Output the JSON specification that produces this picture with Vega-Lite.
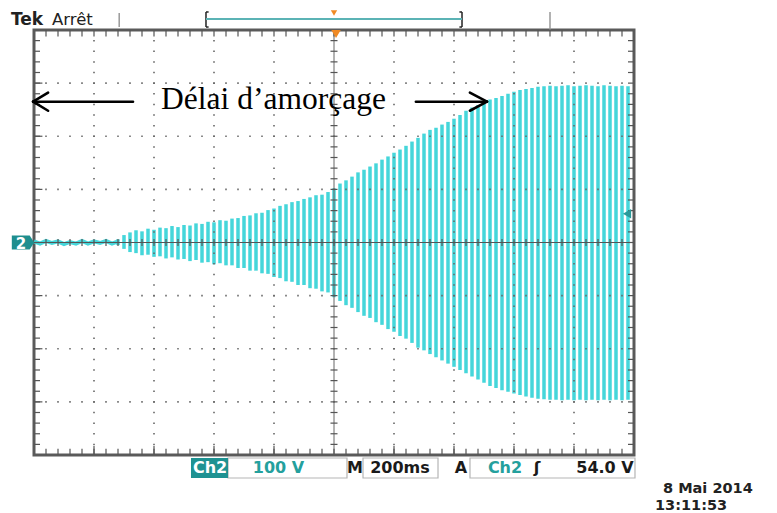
{
"$schema": "https://vega.github.io/schema/vega-lite/v6.json",
"width": 600, "height": 425, "autosize": "none",
"padding": {"left": 34, "top": 30, "right": 143, "bottom": 58},
"background": "white",
"config": {"view": {"stroke": "#5a5a5a", "strokeWidth": 3}},
"datasets": {
"wave": [
{"t":-720,"hi":6,"lo":-5},{"t":-700,"hi":14,"lo":-12},{"t":-680,"hi":19,"lo":-18},{"t":-660,"hi":23,"lo":-20},{"t":-640,"hi":21,"lo":-24},{"t":-620,"hi":26,"lo":-23},{"t":-600,"hi":24,"lo":-27},{"t":-580,"hi":28,"lo":-26},{"t":-560,"hi":27,"lo":-30},{"t":-540,"hi":31,"lo":-28},{"t":-520,"hi":29,"lo":-32},{"t":-500,"hi":33,"lo":-31},{"t":-480,"hi":32,"lo":-35},{"t":-460,"hi":36,"lo":-33},{"t":-440,"hi":35,"lo":-38},{"t":-420,"hi":39,"lo":-37},{"t":-400,"hi":38,"lo":-41},{"t":-380,"hi":42,"lo":-39},{"t":-360,"hi":41,"lo":-43},{"t":-340,"hi":45,"lo":-43},{"t":-320,"hi":46,"lo":-48},{"t":-300,"hi":50,"lo":-48},{"t":-280,"hi":51,"lo":-53},{"t":-260,"hi":55,"lo":-53},{"t":-240,"hi":56,"lo":-58},{"t":-220,"hi":61,"lo":-59},{"t":-200,"hi":64,"lo":-65},{"t":-180,"hi":69,"lo":-67},{"t":-160,"hi":72,"lo":-73},{"t":-140,"hi":76,"lo":-74},{"t":-120,"hi":78,"lo":-80},{"t":-100,"hi":82,"lo":-80},{"t":-80,"hi":85,"lo":-86},{"t":-60,"hi":89,"lo":-87},{"t":-40,"hi":90,"lo":-92},{"t":-20,"hi":95,"lo":-94},{"t":0,"hi":102,"lo":-103},{"t":20,"hi":111,"lo":-110},{"t":40,"hi":117,"lo":-118},{"t":60,"hi":124,"lo":-123},{"t":80,"hi":132,"lo":-131},{"t":100,"hi":137,"lo":-138},{"t":120,"hi":143,"lo":-142},{"t":140,"hi":149,"lo":-150},{"t":160,"hi":156,"lo":-155},{"t":180,"hi":162,"lo":-163},{"t":200,"hi":169,"lo":-168},{"t":220,"hi":175,"lo":-176},{"t":240,"hi":182,"lo":-181},{"t":260,"hi":190,"lo":-189},{"t":280,"hi":197,"lo":-198},{"t":300,"hi":205,"lo":-203},{"t":320,"hi":212,"lo":-210},{"t":340,"hi":216,"lo":-216},{"t":360,"hi":222,"lo":-222},{"t":380,"hi":227,"lo":-228},{"t":400,"hi":233,"lo":-234},{"t":420,"hi":240,"lo":-240},{"t":440,"hi":248,"lo":-246},{"t":460,"hi":254,"lo":-252},{"t":480,"hi":259,"lo":-258},{"t":500,"hi":265,"lo":-264},{"t":520,"hi":269,"lo":-270},{"t":540,"hi":272,"lo":-274},{"t":560,"hi":276,"lo":-278},{"t":580,"hi":280,"lo":-281},{"t":600,"hi":284,"lo":-284},{"t":620,"hi":287,"lo":-287},{"t":640,"hi":289,"lo":-290},{"t":660,"hi":291,"lo":-292},{"t":680,"hi":293,"lo":-294},{"t":700,"hi":294,"lo":-295},{"t":720,"hi":295,"lo":-296},{"t":740,"hi":294,"lo":-296},{"t":760,"hi":295,"lo":-297},{"t":780,"hi":296,"lo":-296},{"t":800,"hi":294,"lo":-297},{"t":820,"hi":295,"lo":-296},{"t":840,"hi":296,"lo":-297},{"t":860,"hi":295,"lo":-296},{"t":880,"hi":294,"lo":-297},{"t":900,"hi":296,"lo":-296},{"t":920,"hi":295,"lo":-297},{"t":940,"hi":294,"lo":-296},{"t":960,"hi":295,"lo":-297},{"t":980,"hi":294,"lo":-296}
],
"flat": [{"t":-1000,"v":2},{"t":-980,"v":-2},{"t":-960,"v":3},{"t":-940,"v":-1},{"t":-920,"v":2},{"t":-900,"v":-3},{"t":-880,"v":1},{"t":-860,"v":-2},{"t":-840,"v":3},{"t":-820,"v":-2},{"t":-800,"v":2},{"t":-780,"v":-1},{"t":-760,"v":3},{"t":-740,"v":-2},{"t":-720,"v":2}],
"vgrid": [{"t":-800},{"t":-600},{"t":-400},{"t":-200},{"t":200},{"t":400},{"t":600},{"t":800}],
"hgrid": [{"v":-300},{"v":-200},{"v":-100},{"v":100},{"v":200},{"v":300}],
"xminor": [{"t":-960},{"t":-920},{"t":-880},{"t":-840},{"t":-800},{"t":-760},{"t":-720},{"t":-680},{"t":-640},{"t":-600},{"t":-560},{"t":-520},{"t":-480},{"t":-440},{"t":-400},{"t":-360},{"t":-320},{"t":-280},{"t":-240},{"t":-200},{"t":-160},{"t":-120},{"t":-80},{"t":-40},{"t":0},{"t":40},{"t":80},{"t":120},{"t":160},{"t":200},{"t":240},{"t":280},{"t":320},{"t":360},{"t":400},{"t":440},{"t":480},{"t":520},{"t":560},{"t":600},{"t":640},{"t":680},{"t":720},{"t":760},{"t":800},{"t":840},{"t":880},{"t":920},{"t":960}],
"yminor": [{"v":-380},{"v":-360},{"v":-340},{"v":-320},{"v":-300},{"v":-280},{"v":-260},{"v":-240},{"v":-220},{"v":-200},{"v":-180},{"v":-160},{"v":-140},{"v":-120},{"v":-100},{"v":-80},{"v":-60},{"v":-40},{"v":-20},{"v":0},{"v":20},{"v":40},{"v":60},{"v":80},{"v":100},{"v":120},{"v":140},{"v":160},{"v":180},{"v":200},{"v":220},{"v":240},{"v":260},{"v":280},{"v":300},{"v":320},{"v":340},{"v":360},{"v":380}],
"arrows": [{"t1":-1003,"v1":265,"t2":-670,"v2":265},{"t1":-1003,"v1":265,"t2":-953,"v2":282},{"t1":-1003,"v1":265,"t2":-953,"v2":248},{"t1":273,"v1":265,"t2":510,"v2":265},{"t1":510,"v1":265,"t2":453,"v2":282},{"t1":510,"v1":265,"t2":453,"v2":248}],
"brackets": [{"t1":-426.7,"v1":433.9,"t2":-426.7,"v2":405.6},{"t1":-426.7,"v1":433.9,"t2":-418,"v2":433.9},{"t1":-426.7,"v1":405.6,"t2":-418,"v2":405.6},{"t1":426.7,"v1":433.9,"t2":426.7,"v2":405.6},{"t1":426.7,"v1":433.9,"t2":418,"v2":433.9},{"t1":426.7,"v1":405.6,"t2":418,"v2":405.6}],
"tealline": [{"t1":-426.7,"v1":420.7,"t2":426.7,"v2":420.7}],
"seps": [{"t1":-716,"v1":432,"t2":-716,"v2":405.6},{"t1":720,"v1":433.9,"t2":720,"v2":401}],
"boxes": [{"t1":-353.3,"t2":43.3},{"t1":96.7,"t2":346.7},{"t1":453.3,"t2":1003.3}],
"chbox": [{"t1":-476.7,"t2":-353.3}],
"whitetext": [{"t":-413.3,"v":-434,"label":"Ch2"}],
"tealtext": [{"t":-185,"v":-434,"label":"100 V"},{"t":570,"v":-434,"label":"Ch2"}],
"blacktext": [{"t":70,"v":-434,"label":"M"},{"t":220,"v":-434,"label":"200ms"},{"t":423.3,"v":-434,"label":"A"},{"t":676.7,"v":-434,"label":"ʃ"},{"t":903.3,"v":-434,"label":"54.0 V"}],
"date": [{"t":1096.7,"v":-470.6,"label":"8 Mai  2014"},{"t":1070,"v":-502.6,"label":"13:11:53"}],
"tek": [{"t":-1076.7,"v":409.4,"label":"Tek"}],
"arret": [{"t":-940,"v":409.4,"label":"Arrêt"}],
"note": [{"t":-201.7,"v":251.3,"label":"Délai d’amorçage"}],
"chmark": [{"t":-1036.7,"v":0,"label":"2"}],
"trig": [{"t":976.7,"v":54}],
"orangeBig": [{"t":6.7,"v":392.5}],
"orangeSmall": [{"t":0,"v":432}]
},
"layer": [
{"data": {"name": "wave"}, "mark": {"type": "rule", "color": "#45d6da", "strokeWidth": 3.5},
 "encoding": {
  "x": {"field": "t", "type": "quantitative", "axis": null, "scale": {"domain": [-1000, 1000], "nice": false, "zero": false}},
  "y": {"field": "hi", "type": "quantitative", "axis": null, "scale": {"domain": [-400, 400], "nice": false, "zero": false}},
  "y2": {"field": "lo"}}},
{"data": {"name": "flat"}, "mark": {"type": "line", "color": "#45d6da", "strokeWidth": 4},
 "encoding": {"x": {"field": "t", "type": "quantitative", "axis": null}, "y": {"field": "v", "type": "quantitative", "axis": null}}},
{"data": {"name": "vgrid"}, "mark": {"type": "rule", "color": "#666", "strokeWidth": 1.6, "strokeDash": [1.5, 9.125], "strokeDashOffset": 0.75},
 "encoding": {"x": {"field": "t", "type": "quantitative", "axis": null}}},
{"data": {"name": "hgrid"}, "mark": {"type": "rule", "color": "#666", "strokeWidth": 1.6, "strokeDash": [1.5, 10.5], "strokeDashOffset": 0.75},
 "encoding": {"y": {"field": "v", "type": "quantitative", "axis": null}}},
{"data": {"values": [{}]}, "mark": {"type": "rule", "color": "#555", "strokeWidth": 1.2},
 "encoding": {"y": {"datum": 0, "type": "quantitative", "axis": null}}},
{"data": {"values": [{}]}, "mark": {"type": "rule", "color": "#666", "strokeWidth": 1},
 "encoding": {"x": {"datum": 0, "type": "quantitative", "axis": null}}},
{"data": {"name": "xminor"}, "mark": {"type": "rule", "strokeWidth": 1.2, "color": "#555"},
 "encoding": {"x": {"field": "t", "type": "quantitative", "axis": null}, "y": {"datum": -6.6, "type": "quantitative", "axis": null}, "y2": {"datum": 6.6}}},
{"data": {"name": "yminor"}, "mark": {"type": "rule", "strokeWidth": 1.2, "color": "#555"},
 "encoding": {"y": {"field": "v", "type": "quantitative", "axis": null}, "x": {"datum": -11.7, "type": "quantitative", "axis": null}, "x2": {"datum": 11.7}}},
{"data": {"name": "xminor"}, "mark": {"type": "rule", "strokeWidth": 1.2, "color": "#555"},
 "encoding": {"x": {"field": "t", "type": "quantitative", "axis": null}, "y": {"datum": -400, "type": "quantitative", "axis": null}, "y2": {"datum": -388}}},
{"data": {"name": "xminor"}, "mark": {"type": "rule", "strokeWidth": 1.2, "color": "#555"},
 "encoding": {"x": {"field": "t", "type": "quantitative", "axis": null}, "y": {"datum": 400, "type": "quantitative", "axis": null}, "y2": {"datum": 388}}},
{"data": {"name": "yminor"}, "mark": {"type": "rule", "strokeWidth": 1.2, "color": "#555"},
 "encoding": {"y": {"field": "v", "type": "quantitative", "axis": null}, "x": {"datum": -1000, "type": "quantitative", "axis": null}, "x2": {"datum": -980}}},
{"data": {"name": "yminor"}, "mark": {"type": "rule", "strokeWidth": 1.2, "color": "#555"},
 "encoding": {"y": {"field": "v", "type": "quantitative", "axis": null}, "x": {"datum": 1000, "type": "quantitative", "axis": null}, "x2": {"datum": 980}}},
{"data": {"name": "vgrid"}, "mark": {"type": "rule", "strokeWidth": 1.2, "color": "#555"},
 "encoding": {"x": {"field": "t", "type": "quantitative", "axis": null}, "y": {"datum": -400, "type": "quantitative", "axis": null}, "y2": {"datum": -383}}},
{"data": {"name": "hgrid"}, "mark": {"type": "rule", "strokeWidth": 1.2, "color": "#555"},
 "encoding": {"y": {"field": "v", "type": "quantitative", "axis": null}, "x": {"datum": -1000, "type": "quantitative", "axis": null}, "x2": {"datum": -972}}},
{"data": {"name": "arrows"}, "mark": {"type": "rule", "color": "black", "strokeWidth": 2.6, "strokeCap": "round"},
 "encoding": {"x": {"field": "t1", "type": "quantitative", "axis": null}, "y": {"field": "v1", "type": "quantitative", "axis": null}, "x2": {"field": "t2"}, "y2": {"field": "v2"}}},
{"data": {"name": "brackets"}, "mark": {"type": "rule", "color": "#222", "strokeWidth": 1.5},
 "encoding": {"x": {"field": "t1", "type": "quantitative", "axis": null}, "y": {"field": "v1", "type": "quantitative", "axis": null}, "x2": {"field": "t2"}, "y2": {"field": "v2"}}},
{"data": {"name": "tealline"}, "mark": {"type": "rule", "color": "#5bb3b5", "strokeWidth": 2},
 "encoding": {"x": {"field": "t1", "type": "quantitative", "axis": null}, "y": {"field": "v1", "type": "quantitative", "axis": null}, "x2": {"field": "t2"}, "y2": {"field": "v2"}}},
{"data": {"name": "seps"}, "mark": {"type": "rule", "color": "#999", "strokeWidth": 1.5},
 "encoding": {"x": {"field": "t1", "type": "quantitative", "axis": null}, "y": {"field": "v1", "type": "quantitative", "axis": null}, "x2": {"field": "t2"}, "y2": {"field": "v2"}}},
{"data": {"name": "boxes"}, "mark": {"type": "rect", "fill": "white", "stroke": "#b5b5b5", "strokeWidth": 1.2},
 "encoding": {"x": {"field": "t1", "type": "quantitative", "axis": null}, "x2": {"field": "t2"}, "y": {"datum": -405.6, "type": "quantitative", "axis": null}, "y2": {"datum": -443.3}}},
{"data": {"name": "chbox"}, "mark": {"type": "rect", "fill": "#1e9292"},
 "encoding": {"x": {"field": "t1", "type": "quantitative", "axis": null}, "x2": {"field": "t2"}, "y": {"datum": -405.6, "type": "quantitative", "axis": null}, "y2": {"datum": -443.3}}},
{"data": {"name": "whitetext"}, "mark": {"type": "text", "font": "DejaVu Sans", "fontWeight": "bold", "fontSize": 16, "color": "white", "align": "center", "baseline": "alphabetic"},
 "encoding": {"x": {"field": "t", "type": "quantitative", "axis": null}, "y": {"field": "v", "type": "quantitative", "axis": null}, "text": {"field": "label"}}},
{"data": {"name": "tealtext"}, "mark": {"type": "text", "font": "DejaVu Sans", "fontWeight": "bold", "fontSize": 16, "color": "#24a09d", "align": "center", "baseline": "alphabetic"},
 "encoding": {"x": {"field": "t", "type": "quantitative", "axis": null}, "y": {"field": "v", "type": "quantitative", "axis": null}, "text": {"field": "label"}}},
{"data": {"name": "blacktext"}, "mark": {"type": "text", "font": "DejaVu Sans", "fontWeight": "bold", "fontSize": 16, "color": "#1a1a1a", "align": "center", "baseline": "alphabetic"},
 "encoding": {"x": {"field": "t", "type": "quantitative", "axis": null}, "y": {"field": "v", "type": "quantitative", "axis": null}, "text": {"field": "label"}}},
{"data": {"name": "date"}, "mark": {"type": "text", "font": "DejaVu Sans", "fontWeight": "bold", "fontSize": 14.5, "color": "#222", "align": "left", "baseline": "alphabetic"},
 "encoding": {"x": {"field": "t", "type": "quantitative", "axis": null}, "y": {"field": "v", "type": "quantitative", "axis": null}, "text": {"field": "label"}}},
{"data": {"name": "tek"}, "mark": {"type": "text", "font": "DejaVu Sans", "fontWeight": "bold", "fontSize": 17, "color": "#222", "align": "left", "baseline": "alphabetic"},
 "encoding": {"x": {"field": "t", "type": "quantitative", "axis": null}, "y": {"field": "v", "type": "quantitative", "axis": null}, "text": {"field": "label"}}},
{"data": {"name": "arret"}, "mark": {"type": "text", "font": "DejaVu Sans", "fontSize": 16.5, "color": "#222", "align": "left", "baseline": "alphabetic"},
 "encoding": {"x": {"field": "t", "type": "quantitative", "axis": null}, "y": {"field": "v", "type": "quantitative", "axis": null}, "text": {"field": "label"}}},
{"data": {"name": "note"}, "mark": {"type": "text", "font": "Liberation Serif", "fontSize": 31.5, "color": "black", "align": "center", "baseline": "alphabetic"},
 "encoding": {"x": {"field": "t", "type": "quantitative", "axis": null}, "y": {"field": "v", "type": "quantitative", "axis": null}, "text": {"field": "label"}}},
{"data": {"name": "chmark"}, "mark": {"type": "point", "filled": true, "opacity": 1, "shape": "M-1,-0.62L0.6,-0.62L1,0L0.6,0.62L-1,0.62Z", "size": 500, "color": "#1e8e8e"},
 "encoding": {"x": {"field": "t", "type": "quantitative", "axis": null}, "y": {"field": "v", "type": "quantitative", "axis": null}}},
{"data": {"name": "chmark"}, "mark": {"type": "text", "font": "DejaVu Sans", "fontWeight": "bold", "fontSize": 15, "color": "white", "align": "center", "baseline": "middle", "dx": -2, "dy": 1},
 "encoding": {"x": {"field": "t", "type": "quantitative", "axis": null}, "y": {"field": "v", "type": "quantitative", "axis": null}, "text": {"field": "label"}}},
{"data": {"name": "trig"}, "mark": {"type": "point", "filled": true, "opacity": 1, "shape": "triangle-left", "size": 90, "color": "#2a9a9a"},
 "encoding": {"x": {"field": "t", "type": "quantitative", "axis": null}, "y": {"field": "v", "type": "quantitative", "axis": null}}},
{"data": {"name": "orangeBig"}, "mark": {"type": "point", "filled": true, "opacity": 1, "shape": "triangle-down", "size": 90, "color": "#f08a24"},
 "encoding": {"x": {"field": "t", "type": "quantitative", "axis": null}, "y": {"field": "v", "type": "quantitative", "axis": null}}},
{"data": {"name": "orangeSmall"}, "mark": {"type": "point", "filled": true, "opacity": 1, "shape": "triangle-down", "size": 40, "color": "#f08a24"},
 "encoding": {"x": {"field": "t", "type": "quantitative", "axis": null}, "y": {"field": "v", "type": "quantitative", "axis": null}}}
]
}
